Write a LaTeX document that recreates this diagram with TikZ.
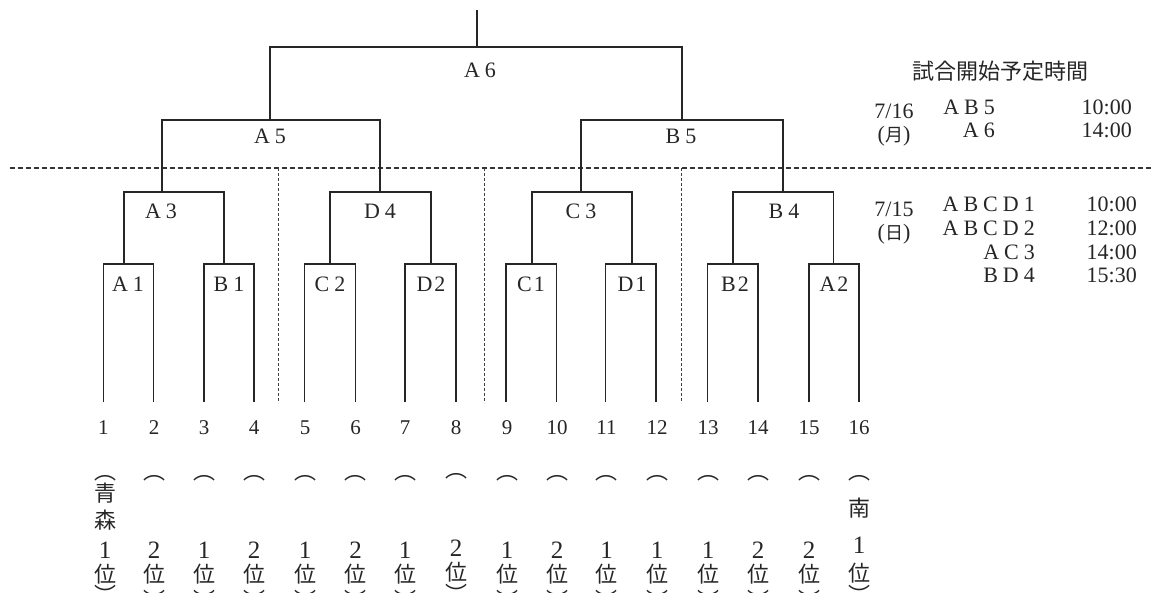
\documentclass[tikz,border=0pt]{standalone}
\usepackage{fontspec}
\setmainfont{Liberation Serif}
\newfontfamily\jpfont{Noto Sans CJK JP}
\newcommand\gapk{\kern5pt}
\begin{document}
\begin{tikzpicture}[x=1pt,y=-1pt,
  br/.style={line width=1.6pt,black!85},
  cutline/.style={line width=1.1pt,black!80,dash pattern=on 5pt off 3pt},
  sepline/.style={line width=1pt,black!75,dash pattern=on 3pt off 2pt},
  lab/.style={font=\fontsize{22}{22}\selectfont,inner sep=0pt,text=black!85},
  num/.style={font=\fontsize{21}{21}\selectfont,inner sep=0pt,text=black!85},
  jp/.style={font=\jpfont\fontsize{22}{22}\selectfont,inner sep=0pt,text=black!85},
  vdig/.style={font=\fontsize{25}{25}\selectfont,inner sep=0pt,text=black!85},
  tm/.style={font=\fontsize{22}{22}\selectfont,inner sep=0pt,text=black!85,anchor=east},
  small/.style={font=\fontsize{22}{22}\selectfont,inner sep=0pt,text=black!85}]
\useasboundingbox (0,0) rectangle (1151,592);
\fill[white] (0,0) rectangle (1151,592);

% team leg ends
\foreach \n/\x in {1/103.3,2/153.3,3/204,4/254,5/304.5,6/355.5,7/405,8/456,
  9/506,10/556.5,11/605.5,12/656,13/707.5,14/758,15/809,16/859}
  \coordinate (t\n) at (\x,402);
% match points (stem x, top y)
\coordinate (A1) at (124,264);  \coordinate (B1) at (224,264);
\coordinate (C2) at (330,264);  \coordinate (D2) at (431,264);
\coordinate (C1) at (531.7,264);\coordinate (D1) at (631.7,264);
\coordinate (B2) at (733,264);  \coordinate (A2) at (833.3,264);
\coordinate (A3) at (161.7,192);\coordinate (D4) at (380,192);
\coordinate (C3) at (580.7,192);\coordinate (B4) at (782.7,192);
\coordinate (A5) at (270,120);  \coordinate (B5) at (681.7,120);
\coordinate (A6) at (477,47);   \coordinate (root) at (477,10);

% separators
\coordinate (cutL) at (10,168); \coordinate (cutR) at (1151,168);
\draw[cutline] (cutL) -- (cutR);
\foreach \x in {278,484.5,681.7}{
  \coordinate (s1) at (\x,168); \coordinate (s2) at (\x,403);
  \draw[sepline] (s1) -- (s2);}

% bracket
\draw[br] (t1) |- (A1) -| (t2);
\draw[br] (t3) |- (B1) -| (t4);
\draw[br] (t5) |- (C2) -| (t6);
\draw[br] (t7) |- (D2) -| (t8);
\draw[br] (t9) |- (C1) -| (t10);
\draw[br] (t11) |- (D1) -| (t12);
\draw[br] (t13) |- (B2) -| (t14);
\draw[br] (t15) |- (A2) -| (t16);
\draw[br] (A1) |- (A3) -| (B1);
\draw[br] (C2) |- (D4) -| (D2);
\draw[br] (C1) |- (C3) -| (D1);
\draw[br] (B2) |- (B4) -| (A2);
\draw[br] (A3) |- (A5) -| (D4);
\draw[br] (C3) |- (B5) -| (B4);
\draw[br] (A5) |- (A6) -| (B5);
\draw[br] (A6) -- (root);

% match labels
\node[lab] (lA6) at (480,70) {A\gapk 6};
\node[lab] (lA5) at (270,136) {A\gapk 5};
\node[lab] (lB5) at (681,136) {B\gapk 5};
\node[lab] (lA3) at (161,211) {A\gapk 3};
\node[lab] (lD4) at (380,211) {D\gapk 4};
\node[lab] (lC3) at (581,211) {C\gapk 3};
\node[lab] (lB4) at (784,211) {B\gapk 4};
\node[lab] (lA1) at (128,284) {A\gapk 1};
\node[lab] (lB1) at (229,284) {B\gapk 1};
\node[lab] (lC2) at (330,284) {C\gapk 2};
\node[lab] (lD2) at (431,284) {D\kern2pt 2};
\node[lab] (lC1) at (531,284) {C\kern2pt 1};
\node[lab] (lD1) at (632,284) {D\kern2pt 1};
\node[lab] (lB2) at (735,284) {B\kern2pt 2};
\node[lab] (lA2) at (834,284) {A\kern2pt 2};

% team numbers
\foreach \n/\x in {1/103.3,2/154,3/204,4/254,5/305,6/355.5,7/405,8/456,
  9/507,10/557,11/606.5,12/657,13/708,14/758,15/809,16/859}{
  \node[num] (n\n) at (\x,428) {\n};}

% vertical team texts
\foreach \n/\x/\d in {2/154/2,3/204/1,4/254/2,5/305/1,6/355.5/2,7/405/1,
  9/507/1,10/557/2,11/606.5/1,12/657/1,13/708/1,14/758/2,15/809/2}{
  \node[jp] (po\n) at (\x,478) {︵};
  \node[vdig] (vd\n) at (\x,550) {\d};
  \node[jp] (vi\n) at (\x,574) {位};
  \node[jp] (pc\n) at (\x,599) {︶};}
\node[jp] (po8) at (456,476) {︵};
\node[vdig] (vd8) at (456,548) {2};
\node[jp] (vi8) at (456,572) {位};
\node[jp] (pc8) at (456,593) {︶};
\node[jp] (po1) at (105,478) {︵};
\node[jp] (ao) at (105,493) {青};
\node[jp] (mo) at (105,520) {森};
\node[vdig] (vd1) at (105,550) {1};
\node[jp] (vi1) at (105,574) {位};
\node[jp] (pc1) at (105,594) {︶};
\node[jp] (po16) at (859,478) {︵};
\node[jp] (mi) at (859,508) {南};
\node[vdig] (vd16) at (859,545) {1};
\node[jp] (vi16) at (859,573) {位};
\node[jp] (pc16) at (859,594) {︶};

% schedule
\node[jp] (title) at (1000,71) {試合開始予定時間};
\node[small] (d716) at (894,111) {7/16};
\node[small] (w716) at (894,136) {(\jpfont\fontsize{18}{18}\selectfont 月\rmfamily\fontsize{22}{22}\selectfont)};
\node[tm] (g1) at (995,107) {A\gapk B\gapk 5};
\node[tm] (g2) at (995,130) {A\gapk 6};
\node[tm] (h1) at (1132,107) {10:00};
\node[tm] (h2) at (1132,130) {14:00};
\node[small] (d715) at (894,209) {7/15};
\node[small] (w715) at (894,234) {(\jpfont\fontsize{18}{18}\selectfont 日\rmfamily\fontsize{22}{22}\selectfont)};
\node[tm] (g3) at (1035,204) {A\gapk B\gapk C\gapk D\gapk 1};
\node[tm] (g4) at (1035,228) {A\gapk B\gapk C\gapk D\gapk 2};
\node[tm] (g5) at (1035,252) {A\gapk C\gapk 3};
\node[tm] (g6) at (1035,275) {B\gapk D\gapk 4};
\node[tm] (h3) at (1137,204) {10:00};
\node[tm] (h4) at (1137,228) {12:00};
\node[tm] (h5) at (1137,252) {14:00};
\node[tm] (h6) at (1137,275) {15:30};
\end{tikzpicture}
\end{document}
